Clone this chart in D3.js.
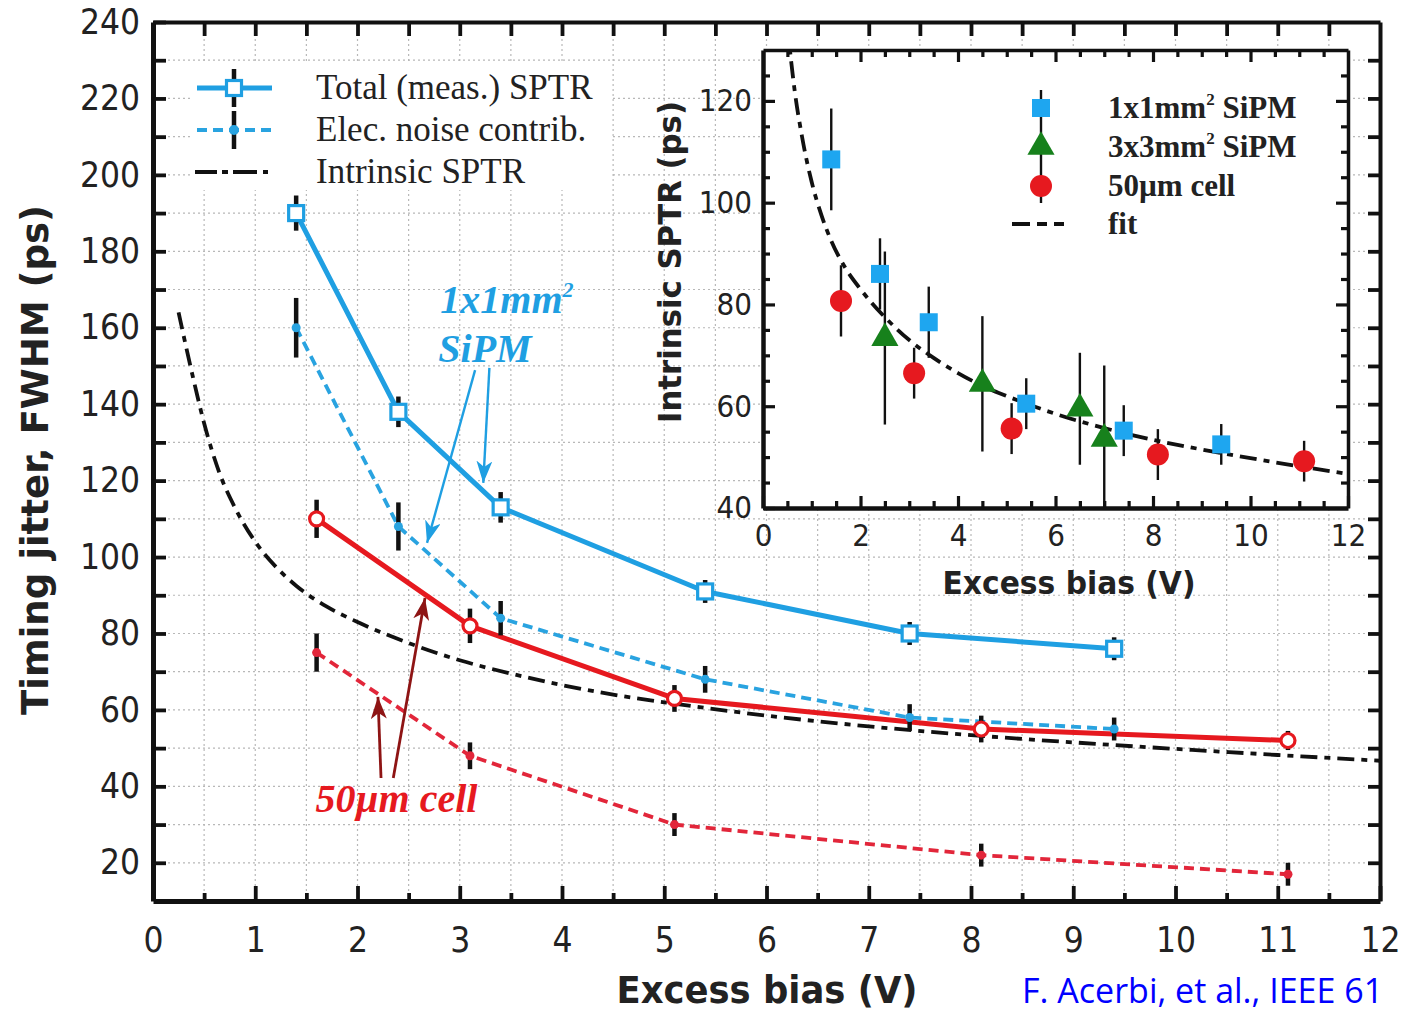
<!DOCTYPE html>
<html><head><meta charset="utf-8">
<script src="https://cdn.jsdelivr.net/npm/d3@7"></script>
<style>
html,body{margin:0;padding:0;background:#fff;overflow:hidden;}
svg{display:block;}
.cond{font-family:"DejaVu Sans Condensed","DejaVu Sans",sans-serif;font-stretch:condensed;}
</style></head>
<body>
<svg id="chart" width="1407" height="1012"></svg>
<script>
// ---------- data (main chart) ----------
const xMeas = [1.4, 2.4, 3.4, 5.4, 7.4, 9.4];
const totalSPTR = [190, 138, 113, 91, 80, 76];
const totalErr = [4.6, 4, 4, 3, 3, 3];
const elecNoise = [160, 108, 84, 68, 58, 55];
const elecErr = [7.8, 6.3, 4.5, 3.5, 3.5, 3];
const xCell = [1.6, 3.1, 5.1, 8.1, 11.1];
const cellTotal = [110, 82, 63, 55, 52];
const cellTotalErr = [5, 4.5, 3.5, 3.5, 2.5];
const cellElec = [75, 48, 30, 22, 17];
const cellElecErr = [5, 3.5, 3, 3, 3];
const intrinsicX = [0.25, 0.4, 0.5, 0.65, 0.8, 1.0, 1.2, 1.4, 1.7, 2.0, 2.5, 3.0, 3.5, 4.0, 4.5, 5.0, 6.0, 7.0, 8.0, 9.0, 10.0, 11.0, 12.0];
const intrinsicY = [164, 146, 135, 122, 113, 104, 97.5, 92.5, 87, 83, 77.5, 73, 69.5, 66.5, 64, 62, 58.5, 55.7, 53.4, 51.5, 49.8, 48.2, 46.7];
const xTickLabels = [0,1,2,3,4,5,6,7,8,9,10,11,12];
const yTickLabels = [20,40,60,80,100,120,140,160,180,200,220,240];
const legendLabels = ["Total (meas.) SPTR", "Elec. noise contrib.", "Intrinsic SPTR"];

// ---------- data (inset) ----------
const insetSqX = [1.4, 2.4, 3.4, 5.4, 7.4, 9.4];
const insetSqY = [108.5, 86, 76.5, 60.5, 55.2, 52.5];
const insetSqErr = [10, 7, 7, 5, 5, 4];
const insetTriX = [2.5, 4.5, 6.5, 7.0];
const insetTriY = [73.4, 64.4, 59.5, 53.6];
const insetTriErr = [17, 13.3, 11, 14.4];
const insetCircX = [1.6, 3.1, 5.1, 8.1, 11.1];
const insetCircY = [80.7, 66.5, 55.6, 50.5, 49.2];
const insetCircErr = [7, 5, 5, 5, 4];
const insetXTicks = [0,2,4,6,8,10,12];
const insetYTicks = [40,60,80,100,120];
const insetLegend = ["1x1mm", "3x3mm", "50µm cell", "fit"];

// ---------- colours ----------
const BLUE = "#1f9fe2", BLUE_D = "#29a3e0", RED = "#e6191f", RED_D = "#e2263a",
      GREEN = "#17811c", SQ = "#1ea6f0", DARKRED = "#8e1414";
const DASHDOT = "17,7,6,7";

const svg = d3.select("#chart");
const x = d3.scaleLinear().domain([0, 12]).range([153, 1380]);
const y = d3.scaleLinear().domain([10, 240]).range([901, 22]);

// grid
const grid = svg.append("g").attr("stroke", "#b8b8b8").attr("stroke-width", 1.2).attr("stroke-dasharray", "2,3");
grid.selectAll(".gx").data(d3.range(0.5, 12, 0.5)).join("line")
  .attr("x1", d => x(d)).attr("x2", d => x(d)).attr("y1", y(10)).attr("y2", y(240));
grid.selectAll(".gy").data(d3.range(20, 240, 10)).join("line")
  .attr("x1", x(0)).attr("x2", x(12)).attr("y1", d => y(d)).attr("y2", d => y(d));

// legend background
svg.append("rect").attr("x", 190).attr("y", 64).attr("width", 420).attr("height", 126).attr("fill", "#fff");

// intrinsic curve
const smooth = d3.line().x(d => x(d[0])).y(d => y(d[1])).curve(d3.curveMonotoneX);
const straight = d3.line().x(d => x(d[0])).y(d => y(d[1]));
svg.append("path").datum(d3.zip(intrinsicX, intrinsicY)).attr("d", smooth)
  .attr("fill", "none").attr("stroke", "#111").attr("stroke-width", 3.8).attr("stroke-dasharray", DASHDOT);

// series
function series(xs, ys, color, width, dash) {
  svg.append("path").datum(d3.zip(xs, ys)).attr("d", straight).attr("fill", "none")
    .attr("stroke", color).attr("stroke-width", width).attr("stroke-linejoin", "round").attr("stroke-dasharray", dash || null);
}
series(xMeas, elecNoise, BLUE_D, 3.8, "10,6");
series(xCell, cellElec, RED_D, 3.8, "10,6");
series(xMeas, totalSPTR, BLUE, 5);
series(xCell, cellTotal, RED, 5);

function errBars(xs, ys, es, sx, sy, w, parent) {
  (parent || svg).append("g").selectAll("line").data(d3.zip(xs, ys, es)).join("line")
    .attr("x1", d => sx(d[0])).attr("x2", d => sx(d[0]))
    .attr("y1", d => sy(d[1] - d[2])).attr("y2", d => sy(d[1] + d[2]))
    .attr("stroke", "#111").attr("stroke-width", w);
}
errBars(xMeas, totalSPTR, totalErr, x, y, 4.5);
errBars(xMeas, elecNoise, elecErr, x, y, 4.5);
errBars(xCell, cellTotal, cellTotalErr, x, y, 4.5);
errBars(xCell, cellElec, cellElecErr, x, y, 4.5);

// markers
svg.append("g").selectAll("rect").data(d3.zip(xMeas, totalSPTR)).join("rect")
  .attr("x", d => x(d[0]) - 7.5).attr("y", d => y(d[1]) - 7.5).attr("width", 15).attr("height", 15)
  .attr("fill", "#fff").attr("stroke", BLUE).attr("stroke-width", 3.2);
svg.append("g").selectAll("circle").data(d3.zip(xCell, cellTotal)).join("circle")
  .attr("cx", d => x(d[0])).attr("cy", d => y(d[1])).attr("r", 7)
  .attr("fill", "#fff").attr("stroke", RED).attr("stroke-width", 3.2);
svg.append("g").selectAll("circle").data(d3.zip(xMeas, elecNoise)).join("circle")
  .attr("cx", d => x(d[0])).attr("cy", d => y(d[1])).attr("r", 4.5).attr("fill", BLUE_D);
svg.append("g").selectAll("circle").data(d3.zip(xCell, cellElec)).join("circle")
  .attr("cx", d => x(d[0])).attr("cy", d => y(d[1])).attr("r", 4.5).attr("fill", RED_D);

// axes (main)
function styleAxis(g, w) {
  g.select(".domain").attr("stroke", "#111").attr("stroke-width", w);
  g.selectAll(".tick line").attr("stroke", "#111").attr("stroke-width", 3.8);
  g.selectAll(".tick text").attr("class", "cond").attr("fill", "#222").attr("font-size", 35);
}
const axB = svg.append("g").attr("transform", `translate(0,${y(10)})`)
  .call(d3.axisBottom(x).tickValues(xTickLabels).tickSize(-15).tickSizeOuter(0).tickPadding(26).tickFormat(d3.format("d")));
styleAxis(axB, 5);
svg.append("g").attr("transform", `translate(0,${y(10)})`)
  .call(d3.axisBottom(x).tickValues(d3.range(0.5, 12, 1)).tickSize(-8).tickSizeOuter(0).tickFormat(""))
  .call(g => { g.select(".domain").remove(); g.selectAll("line").attr("stroke", "#111").attr("stroke-width", 3.8); });
const axT = svg.append("g").attr("transform", `translate(0,${y(240)})`)
  .call(d3.axisTop(x).tickValues(d3.range(0.5, 12, 0.5)).tickSize(-14).tickSizeOuter(0).tickFormat(""));
styleAxis(axT, 4);
const axL = svg.append("g").attr("transform", `translate(${x(0)},0)`)
  .call(d3.axisLeft(y).tickValues(d3.range(20, 241, 10)).tickSize(-13).tickSizeOuter(0).tickPadding(13)
    .tickFormat(d => yTickLabels.includes(d) ? d : ""));
styleAxis(axL, 5);
const axR = svg.append("g").attr("transform", `translate(${x(12)},0)`)
  .call(d3.axisRight(y).tickValues(d3.range(20, 240, 10)).tickSize(-12).tickSizeOuter(0).tickFormat(""));
styleAxis(axR, 4);

// axis titles
svg.append("text").attr("class", "cond").attr("x", 767).attr("y", 1003).attr("text-anchor", "middle")
  .attr("font-size", 37).attr("font-weight", "bold").attr("fill", "#222")
  .attr("textLength", 301).attr("lengthAdjust", "spacingAndGlyphs").text("Excess bias (V)");
svg.append("text").attr("class", "cond").attr("transform", "translate(48,460) rotate(-90)").attr("text-anchor", "middle")
  .attr("font-size", 37).attr("font-weight", "bold").attr("fill", "#222")
  .attr("textLength", 510).attr("lengthAdjust", "spacingAndGlyphs").text("Timing jitter, FWHM (ps)");

// annotations
const ann = svg.append("g").attr("font-family", "Liberation Serif, serif").attr("font-weight", "bold").attr("font-style", "italic").attr("font-size", 40);
const t1 = ann.append("text").attr("x", x(2.81)).attr("y", y(163.9)).attr("fill", BLUE);
t1.append("tspan").text("1x1mm");
t1.append("tspan").attr("font-size", 22).attr("dy", -16).text("2");
ann.append("text").attr("x", x(2.79)).attr("y", y(151)).attr("fill", BLUE).text("SiPM");
ann.append("text").attr("x", x(1.59)).attr("y", y(33.3)).attr("fill", RED).text("50µm cell");

const defs = svg.append("defs");
function marker(id, color) {
  defs.append("marker").attr("id", id).attr("viewBox", "0 0 22 16").attr("refX", 22).attr("refY", 8)
    .attr("markerWidth", 22).attr("markerHeight", 16).attr("markerUnits", "userSpaceOnUse").attr("orient", "auto")
    .append("path").attr("d", "M0,0 L22,8 L0,16 L6,8 Z").attr("fill", color);
}
marker("ab", BLUE); marker("ar", DARKRED);
const arrowsBlue = [[3.15, 148.9, 2.68, 103.7], [3.29, 149.5, 3.23, 119.4]];
const arrowsRed = [[2.23, 42.2, 2.20, 63.4], [2.35, 42.2, 2.66, 89.3]];
svg.append("g").selectAll("line").data(arrowsBlue).join("line")
  .attr("x1", d => x(d[0])).attr("y1", d => y(d[1])).attr("x2", d => x(d[2])).attr("y2", d => y(d[3]))
  .attr("stroke", BLUE).attr("stroke-width", 2.4).attr("marker-end", "url(#ab)");
svg.append("g").selectAll("line").data(arrowsRed).join("line")
  .attr("x1", d => x(d[0])).attr("y1", d => y(d[1])).attr("x2", d => x(d[2])).attr("y2", d => y(d[3]))
  .attr("stroke", DARKRED).attr("stroke-width", 2.8).attr("marker-end", "url(#ar)");

// main legend
const lg = svg.append("g");
const rows = [88, 130, 172];
lg.append("line").attr("x1", 197).attr("x2", 272).attr("y1", rows[0]).attr("y2", rows[0]).attr("stroke", BLUE).attr("stroke-width", 5);
lg.append("line").attr("x1", 234).attr("x2", 234).attr("y1", rows[0] - 19).attr("y2", rows[0] + 19).attr("stroke", "#111").attr("stroke-width", 4.5);
lg.append("rect").attr("x", 226.5).attr("y", rows[0] - 7.5).attr("width", 15).attr("height", 15).attr("fill", "#fff").attr("stroke", BLUE).attr("stroke-width", 3.2);
lg.append("line").attr("x1", 197).attr("x2", 272).attr("y1", rows[1]).attr("y2", rows[1]).attr("stroke", BLUE_D).attr("stroke-width", 3.8).attr("stroke-dasharray", "10,6");
lg.append("line").attr("x1", 234).attr("x2", 234).attr("y1", rows[1] - 19).attr("y2", rows[1] + 19).attr("stroke", "#111").attr("stroke-width", 4.5);
lg.append("circle").attr("cx", 234).attr("cy", rows[1]).attr("r", 5).attr("fill", BLUE_D);
lg.append("line").attr("x1", 195).attr("x2", 270).attr("y1", rows[2]).attr("y2", rows[2]).attr("stroke", "#111").attr("stroke-width", 4).attr("stroke-dasharray", "22,5,6,5,24,6,5,100");
lg.selectAll("text").data(legendLabels).join("text")
  .attr("x", 316).attr("y", (d, i) => rows[i] + 11).attr("font-family", "Liberation Serif, serif").attr("font-size", 35).attr("fill", "#222")
  .text(d => d);

// ---------- inset ----------
const xi = d3.scaleLinear().domain([0, 12]).range([763, 1348]);
const yi = d3.scaleLinear().domain([40, 130]).range([508, 50]);
const ins = svg.append("g");
ins.append("rect").attr("x", xi(0)).attr("y", yi(130)).attr("width", xi(12) - xi(0)).attr("height", yi(40) - yi(130)).attr("fill", "#fff");
defs.append("clipPath").attr("id", "ic").append("rect").attr("x", xi(0)).attr("y", yi(130)).attr("width", xi(12) - xi(0)).attr("height", yi(40) - yi(130));
const inner = ins.append("g").attr("clip-path", "url(#ic)");
const lineI = d3.line().x(d => xi(d[0])).y(d => yi(d[1])).curve(d3.curveMonotoneX);
inner.append("path").datum(d3.zip(intrinsicX, intrinsicY)).attr("d", lineI).attr("fill", "none")
  .attr("stroke", "#111").attr("stroke-width", 3.8).attr("stroke-dasharray", DASHDOT);
errBars(insetSqX, insetSqY, insetSqErr, xi, yi, 2.4, inner);
errBars(insetTriX, insetTriY, insetTriErr, xi, yi, 2.4, inner);
errBars(insetCircX, insetCircY, insetCircErr, xi, yi, 2.4, inner);
inner.append("g").selectAll("rect").data(d3.zip(insetSqX, insetSqY)).join("rect")
  .attr("x", d => xi(d[0]) - 9).attr("y", d => yi(d[1]) - 9).attr("width", 18).attr("height", 18).attr("fill", SQ);
inner.append("g").selectAll("path").data(d3.zip(insetTriX, insetTriY)).join("path")
  .attr("transform", d => `translate(${xi(d[0])},${yi(d[1])})`)
  .attr("d", d3.symbol(d3.symbolTriangle, 320)).attr("fill", GREEN);
inner.append("g").selectAll("circle").data(d3.zip(insetCircX, insetCircY)).join("circle")
  .attr("cx", d => xi(d[0])).attr("cy", d => yi(d[1])).attr("r", 11).attr("fill", RED);

function styleI(g, w) {
  g.select(".domain").attr("stroke", "#111").attr("stroke-width", w);
  g.selectAll(".tick line").attr("stroke", "#111").attr("stroke-width", 3.2);
  g.selectAll(".tick text").attr("class", "cond").attr("fill", "#222").attr("font-size", 31);
}
function minor(g) { g.select(".domain").remove(); g.selectAll("line").attr("stroke", "#111").attr("stroke-width", 3.2); }
const halfs = d3.range(0.5, 12, 0.5).filter(v => v % 2 !== 0);
const fives = d3.range(45, 130, 5).filter(v => v % 20 !== 0);
styleI(ins.append("g").attr("transform", `translate(0,${yi(40)})`)
  .call(d3.axisBottom(xi).tickValues(insetXTicks).tickSize(-12).tickSizeOuter(0).tickPadding(16)), 4.5);
ins.append("g").attr("transform", `translate(0,${yi(40)})`)
  .call(d3.axisBottom(xi).tickValues(halfs).tickSize(-7).tickSizeOuter(0).tickFormat("")).call(minor);
styleI(ins.append("g").attr("transform", `translate(0,${yi(130)})`)
  .call(d3.axisTop(xi).tickValues(insetXTicks.slice(1, -1)).tickSize(-12).tickSizeOuter(0).tickFormat("")), 3.5);
ins.append("g").attr("transform", `translate(0,${yi(130)})`)
  .call(d3.axisTop(xi).tickValues(halfs).tickSize(-7).tickSizeOuter(0).tickFormat("")).call(minor);
styleI(ins.append("g").attr("transform", `translate(${xi(0)},0)`)
  .call(d3.axisLeft(yi).tickValues(insetYTicks).tickSize(-12).tickSizeOuter(0).tickPadding(11)), 4.5);
ins.append("g").attr("transform", `translate(${xi(0)},0)`)
  .call(d3.axisLeft(yi).tickValues(fives).tickSize(-7).tickSizeOuter(0).tickFormat("")).call(minor);
styleI(ins.append("g").attr("transform", `translate(${xi(12)},0)`)
  .call(d3.axisRight(yi).tickValues(insetYTicks.slice(1)).tickSize(-12).tickSizeOuter(0).tickFormat("")), 3.5);
ins.append("g").attr("transform", `translate(${xi(12)},0)`)
  .call(d3.axisRight(yi).tickValues(fives).tickSize(-7).tickSizeOuter(0).tickFormat("")).call(minor);

ins.append("text").attr("class", "cond").attr("x", 1069).attr("y", 594).attr("text-anchor", "middle")
  .attr("font-size", 32).attr("font-weight", "bold").attr("fill", "#222")
  .attr("textLength", 253).attr("lengthAdjust", "spacingAndGlyphs").text("Excess bias (V)");
ins.append("text").attr("class", "cond").attr("transform", "translate(681,262) rotate(-90)").attr("text-anchor", "middle")
  .attr("font-size", 32).attr("font-weight", "bold").attr("fill", "#222")
  .attr("textLength", 322).attr("lengthAdjust", "spacingAndGlyphs").text("Intrinsic SPTR (ps)");

// inset legend
const il = ins.append("g");
const irows = [108, 147, 186, 224];
const lx = 1041;
il.append("line").attr("x1", lx).attr("x2", lx).attr("y1", irows[0] - 18).attr("y2", irows[2] + 17).attr("stroke", "#111").attr("stroke-width", 2.4);
il.append("rect").attr("x", lx - 9).attr("y", irows[0] - 9).attr("width", 18).attr("height", 18).attr("fill", SQ);
il.append("path").attr("transform", `translate(${lx},${irows[1]})`).attr("d", d3.symbol(d3.symbolTriangle, 320)).attr("fill", GREEN);
il.append("circle").attr("cx", lx).attr("cy", irows[2]).attr("r", 11).attr("fill", RED);
il.append("line").attr("x1", 1012).attr("x2", 1072).attr("y1", irows[3]).attr("y2", irows[3]).attr("stroke", "#111").attr("stroke-width", 4).attr("stroke-dasharray", "18,7,10,7,10");
const ilt = il.append("g").attr("font-family", "Liberation Serif, serif").attr("font-weight", "bold").attr("font-size", 31).attr("fill", "#222");
insetLegend.forEach((lab, i) => {
  const t = ilt.append("text").attr("x", 1108).attr("y", irows[i] + 10);
  t.append("tspan").text(lab);
  if (i < 2) {
    t.append("tspan").attr("font-size", 17).attr("dy", -13).text("2");
    t.append("tspan").attr("dy", 13).text(" SiPM");
  }
});

// citation
svg.append("text").attr("x", 1022).attr("y", 1003).attr("font-family", "Open Sans, Liberation Sans, sans-serif")
  .attr("font-size", 34).attr("fill", "#0000ff").text("F. Acerbi, et al., IEEE 61");
</script>
</body></html>
